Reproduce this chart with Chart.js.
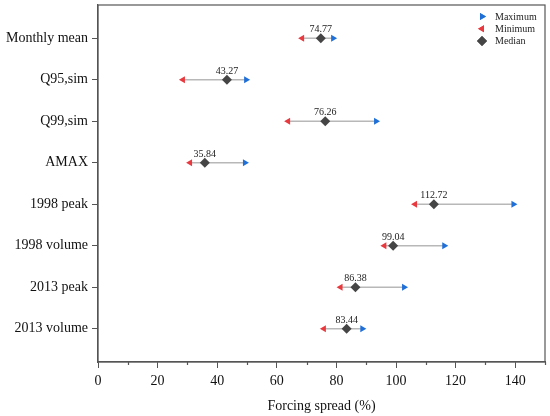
<!DOCTYPE html>
<html>
<head>
<meta charset="utf-8">
<script src="https://cdn.jsdelivr.net/npm/chart.js@4"></script>
<style>
html,body{margin:0;padding:0;background:#fff;}
#wrap{width:550px;height:416px;position:relative;}
</style>
</head>
<body>
<div id="wrap"><canvas id="c" width="550" height="416"></canvas></div>
<script>
const categories = ["Monthly mean","Q95,sim","Q99,sim","AMAX","1998 peak","1998 volume","2013 peak","2013 volume"];
const maxValues = [78.9, 49.7, 93.3, 49.3, 139.4, 116.2, 102.7, 88.7];
const minValues = [68.5, 28.5, 63.8, 30.9, 106.4, 96.1, 81.4, 75.8];
const medianValues = [74.77, 43.27, 76.26, 35.84, 112.72, 99.04, 86.38, 83.44];
const xTicks = [0, 20, 40, 60, 80, 100, 120, 140];

const FONT = "'Liberation Serif','Times New Roman',serif";
const AXIS = '#555555';
const BLUE = '#1f6fd8';
const RED = '#e8393f';
const MED = '#454545';
const RANGE = '#b8b8b8';

const rangeSets = categories.map((c, i) => ({
  type: 'line',
  label: '_range' + i,
  data: [{x: minValues[i], y: i + 1}, {x: maxValues[i], y: i + 1}],
  borderColor: RANGE,
  borderWidth: 1.5,
  pointRadius: 0,
  order: 5
}));

const datasets = [
  ...rangeSets,
  {
    type: 'scatter', label: 'Maximum',
    data: maxValues.map((v, i) => ({x: v, y: i + 1})),
    pointStyle: 'triangle', rotation: 90, pointRadius: 4,
    backgroundColor: BLUE, borderColor: BLUE, borderWidth: 0, order: 2
  },
  {
    type: 'scatter', label: 'Minimum',
    data: minValues.map((v, i) => ({x: v, y: i + 1})),
    pointStyle: 'triangle', rotation: -90, pointRadius: 4,
    backgroundColor: RED, borderColor: RED, borderWidth: 0, order: 2
  },
  {
    type: 'scatter', label: 'Median',
    data: medianValues.map((v, i) => ({x: v, y: i + 1})),
    pointStyle: 'rectRot', pointRadius: 5,
    backgroundColor: MED, borderColor: MED, borderWidth: 0, order: 1
  }
];

const decorPlugin = {
  id: 'decor',
  afterDatasetsDraw(chart) {
    const {ctx, chartArea: a, scales} = chart;
    ctx.save();
    // frame
    ctx.strokeStyle = AXIS; ctx.lineWidth = 1.2;
    ctx.strokeRect(a.left, a.top, a.right - a.left, a.bottom - a.top);
    // minor ticks
    ctx.beginPath();
    for (let v = 10; v <= 150; v += 20) {
      const px = Math.round(scales.x.getPixelForValue(v)) + 0.5;
      ctx.moveTo(px, a.bottom); ctx.lineTo(px, a.bottom + 3);
    }
    ctx.stroke();
    // value labels
    const ms = chart.getDatasetMeta(datasets.length - 1);
    ctx.fillStyle = '#222'; ctx.font = '10px ' + FONT;
    ctx.textAlign = 'center'; ctx.textBaseline = 'alphabetic';
    ms.data.forEach((p, i) => {
      ctx.fillText(medianValues[i].toFixed(2), p.x, p.y - 6);
    });
    // legend
    const items = [['Maximum', 'triangle', 90, BLUE], ['Minimum', 'triangle', -90, RED], ['Median', 'rectRot', 0, MED]];
    const lx = 482, ly0 = 16.5, dy = 12.3;
    ctx.textAlign = 'left'; ctx.textBaseline = 'middle'; ctx.font = '10px ' + FONT;
    items.forEach((it, k) => {
      const y = ly0 + k * dy;
      ctx.fillStyle = it[3];
      Chart.helpers.drawPoint(ctx, {pointStyle: it[1], rotation: it[2], radius: it[1] === 'rectRot' ? 5 : 4, borderWidth: 0}, lx, y);
      ctx.fill();
      ctx.fillStyle = '#222';
      ctx.fillText(it[0], lx + 13, y + 0.5);
    });
    ctx.restore();
  }
};

new Chart(document.getElementById('c'), {
  data: {datasets},
  options: {
    responsive: false,
    animation: false,
    devicePixelRatio: 1,
    layout: {padding: {top: 5, right: 5, left: 0, bottom: 0}},
    plugins: {legend: {display: false}, tooltip: {enabled: false}},
    scales: {
      x: {
        type: 'linear', min: 0, max: 150,
        afterBuildTicks: s => { s.ticks = xTicks.map(v => ({value: v})); },
        ticks: {color: '#111', font: {family: FONT, size: 14}, padding: 5, maxRotation: 0},
        grid: {drawOnChartArea: false, tickLength: 6, color: AXIS, tickColor: AXIS},
        border: {display: true, color: AXIS, width: 1.2},
        title: {display: true, text: 'Forcing spread (%)', color: '#111', font: {family: FONT, size: 14}, padding: {top: 6, bottom: 1}},
        afterFit: s => { s.height = 54; s.paddingLeft = 0; s.paddingRight = 0; }
      },
      y: {
        type: 'linear', min: 0.2, max: 8.8, reverse: true,
        afterBuildTicks: s => { s.ticks = categories.map((c, i) => ({value: i + 1})); },
        ticks: {color: '#111', font: {family: FONT, size: 14}, padding: 4, callback: v => categories[v - 1]},
        grid: {drawOnChartArea: false, tickLength: 6, color: AXIS, tickColor: AXIS},
        border: {display: true, color: AXIS, width: 1.2},
        afterFit: s => { s.width = 98; s.paddingTop = 0; s.paddingBottom = 0; }
      }
    }
  },
  plugins: [decorPlugin]
});
</script>
</body>
</html>
